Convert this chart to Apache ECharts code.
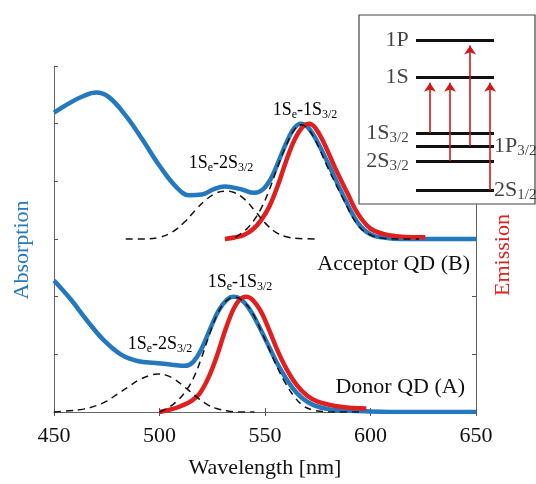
<!DOCTYPE html>
<html>
<head>
<meta charset="utf-8">
<script src="https://cdn.jsdelivr.net/npm/echarts@6/dist/echarts.min.js"></script>
<style>html,body{margin:0;background:#fff}#chart{width:536px;height:484px}</style>
</head>
<body>
<div id="chart"></div>
<script>
// spectra, [wavelength nm, offset absorbance/emission]
const accAbs = [[450,5.19],[457,5.35],[464,5.48],[470,5.54],[476,5.46],[484,5.14],[492,4.72],[500,4.27],[508,3.90],[514,3.76],[520,3.77],[526,3.87],[531,3.91],[538,3.87],[545,3.80],[549,3.86],[553,4.06],[557,4.40],[561,4.74],[564,4.93],[567,5.0],[570,4.95],[574,4.74],[580,4.30],[587,3.76],[594,3.28],[600,3.08],[607,3.02],[615,3.0],[630,3.0],[650,3.0]];
const accEm = [[531,3.0],[536,3.03],[540,3.07],[544,3.16],[548,3.32],[552,3.56],[556,3.92],[560,4.35],[564,4.72],[568,4.95],[571,5.0],[574,4.92],[578,4.66],[583,4.25],[589,3.80],[594,3.44],[600,3.18],[606,3.09],[612,3.05],[620,3.03],[626,3.03]];
const accFit1S = [[536,3.03],[542,3.2],[548,3.52],[552,3.85],[556,4.25],[560,4.62],[564,4.9],[567,4.98],[570,4.93],[574,4.70],[580,4.22],[587,3.70],[594,3.24],[600,3.07],[607,3.01],[615,3.0],[623,3.0]];
const accFit2S = [[484,3.0],[492,3.0],[500,3.03],[506,3.12],[512,3.3],[517,3.5],[522,3.68],[527,3.8],[531,3.83],[535,3.81],[540,3.70],[545,3.50],[550,3.28],[555,3.12],[560,3.04],[566,3.01],[575,3.0]];

const donAbs = [[450,2.28],[458,1.95],[466,1.57],[474,1.23],[482,0.99],[490,0.88],[498,0.85],[506,0.82],[512,0.80],[516,0.87],[520,1.10],[524,1.44],[528,1.76],[532,1.95],[535,2.0],[538,1.97],[542,1.82],[546,1.57],[551,1.20],[557,0.76],[563,0.42],[568,0.23],[573,0.12],[580,0.05],[590,0.02],[600,0.01],[620,0.0],[650,0.0]];
const donEm = [[500,0.0],[505,0.04],[510,0.10],[515,0.19],[519,0.32],[523,0.58],[527,0.95],[531,1.40],[535,1.78],[538,1.95],[541,2.0],[544,1.95],[548,1.75],[552,1.42],[556,1.06],[560,0.76],[565,0.47],[570,0.28],[575,0.18],[584,0.10],[592,0.07],[598,0.06]];
const donFit2S = [[450,0.0],[457,0.02],[464,0.05],[470,0.11],[475,0.19],[480,0.31],[485,0.43],[490,0.55],[495,0.63],[499,0.66],[503,0.64],[507,0.57],[511,0.46],[515,0.34],[519,0.22],[523,0.12],[527,0.06],[532,0.02],[538,0.0],[545,0.0]];
const donFit1S = [[500,0.0],[504,0.07],[508,0.18],[512,0.34],[516,0.58],[520,0.95],[524,1.38],[528,1.74],[532,1.94],[536,1.99],[540,1.91],[544,1.72],[548,1.42],[552,1.09],[556,0.76],[560,0.48],[564,0.26],[568,0.11],[572,0.04],[577,0.01],[583,0.0],[595,0.0]];

// inset energy levels (arbitrary units)
const levelNames = ['1P', '1S', '1S3/2', '1P3/2', '2S3/2', '2S1/2'];
const levelEnergy = [86.8, 67.2, 37.6, 30.7, 22.8, 7.4];
const levelLabelSide = ['left', 'left', 'left', 'right', 'left', 'right'];
const transitions = [['1S3/2', '1S'], ['2S3/2', '1S'], ['1P3/2', '1P'], ['2S1/2', '1S']];

const BLUE = '#2479be', RED = '#e11f1f', FONT = 'Liberation Serif';

function richName(n) {
    // "1S3/2" -> 1S with 3/2 subscript
    const m = n.match(/^(\d[SP])(.*)$/);
    return '{m|' + m[1] + '}' + (m[2] ? '{s|' + m[2] + '}' : '');
}
const eV = name => levelEnergy[levelNames.indexOf(name)];

function dashed(data) {
    return {type: 'line', data: data, smooth: 0.4, showSymbol: false, z: 4,
        lineStyle: {color: '#111', width: 1.5, type: [7, 5]}};
}
function solid(data, color, z) {
    return {type: 'line', data: data, smooth: 0.4, showSymbol: false, z: z,
        lineStyle: {color: color, width: 4.5}};
}

const tick = {show: true, inside: true, length: 4, lineStyle: {color: '#555'}};
const axLine = {show: true, lineStyle: {color: '#666', width: 1}};

const annRich = {
    m: {fontFamily: FONT, fontSize: 18, color: '#222'},
    s: {fontFamily: FONT, fontSize: 12, color: '#222', padding: [9, 0, 0, 0]}
};
function ann(text, x, y) {
    return {type: 'text', x: x, y: y, z: 30,
        style: {text: text, rich: annRich, align: 'center', verticalAlign: 'middle'}};
}

const myChart = echarts.init(document.getElementById('chart'));
const option = {
    animation: false,
    grid: [
        {left: 54, top: 66, right: 60, bottom: 70},
        {left: 359, top: 15, width: 176, height: 189, show: true, z: 10,
            backgroundColor: '#fff', borderColor: '#444', borderWidth: 1.2}
    ],
    xAxis: [
        {type: 'value', min: 450, max: 650, interval: 50, axisLine: axLine, axisTick: tick, splitLine: {show: false},
            axisLabel: {fontFamily: FONT, fontSize: 22, color: '#111', margin: 13},
            name: 'Wavelength [nm]', nameLocation: 'middle', nameGap: 45,
            nameTextStyle: {fontFamily: FONT, fontSize: 22, color: '#111'}},
        {type: 'value', position: 'top', min: 450, max: 650, interval: 50, axisLine: axLine, axisTick: tick,
            axisLabel: {show: false}, splitLine: {show: false}},
        {type: 'value', gridIndex: 1, min: 0, max: 100, show: false}
    ],
    yAxis: [
        {type: 'value', min: 0, max: 6, interval: 1, axisLine: axLine, axisTick: tick,
            axisLabel: {show: false}, splitLine: {show: false}},
        {type: 'value', position: 'right', min: 0, max: 6, interval: 1, axisLine: axLine, axisTick: tick,
            axisLabel: {show: false}, splitLine: {show: false}},
        {type: 'value', gridIndex: 1, min: 0, max: 100, show: false}
    ],
    series: [
        solid(accAbs, BLUE, 2), solid(accEm, RED, 3), dashed(accFit2S), dashed(accFit1S),
        solid(donAbs, BLUE, 2), solid(donEm, RED, 3), dashed(donFit2S), dashed(donFit1S),
        {type: 'lines', coordinateSystem: 'cartesian2d', xAxisIndex: 2, yAxisIndex: 2, z: 20,
            lineStyle: {color: '#111', width: 3, opacity: 1},
            data: levelEnergy.map(e => ({coords: [[32.4, e], [76.7, e]]}))},
        {type: 'lines', coordinateSystem: 'cartesian2d', xAxisIndex: 2, yAxisIndex: 2, z: 21,
            symbol: ['none', 'arrow'], symbolSize: 9,
            lineStyle: {color: '#d01818', width: 1.6, opacity: 1},
            data: transitions.map((t, i) => ({coords: [[40.3 + i * 11.4, eV(t[0])], [40.3 + i * 11.4, eV(t[1]) - 3]]}))},
        {type: 'scatter', xAxisIndex: 2, yAxisIndex: 2, z: 22, symbolSize: 0,
            data: levelNames.map((n, i) => ({
                value: [levelLabelSide[i] === 'left' ? 30.5 : 76.7, levelEnergy[i]],
                label: {show: true, position: levelLabelSide[i], distance: levelLabelSide[i] === 'left' ? 4 : 0,
                    formatter: richName(n),
                    rich: {m: {fontFamily: FONT, fontSize: 22, color: '#111'},
                        s: {fontFamily: FONT, fontSize: 15, color: '#111', padding: [11, 0, 0, 0]}}}
            }))}
    ],
    graphic: [
        {type: 'text', x: 22, y: 250, rotation: Math.PI / 2, z: 30,
            style: {text: 'Absorption', fontFamily: FONT, fontSize: 22, fill: BLUE, align: 'center', verticalAlign: 'middle'}},
        {type: 'text', x: 503, y: 255, rotation: Math.PI / 2, z: 30,
            style: {text: 'Emission', fontFamily: FONT, fontSize: 22, fill: RED, align: 'center', verticalAlign: 'middle'}},
        ann('{m|1S}{s|e}{m|-1S}{s|3/2}', 305, 110),
        ann('{m|1S}{s|e}{m|-2S}{s|3/2}', 221, 163),
        ann('{m|1S}{s|e}{m|-1S}{s|3/2}', 240, 282),
        ann('{m|1S}{s|e}{m|-2S}{s|3/2}', 160, 344),
        {type: 'text', x: 470, y: 264, z: 30,
            style: {text: 'Acceptor QD (B)', fontFamily: FONT, fontSize: 22, fill: '#111', align: 'right', verticalAlign: 'middle'}},
        {type: 'text', x: 465, y: 387, z: 30,
            style: {text: 'Donor QD (A)', fontFamily: FONT, fontSize: 22, fill: '#111', align: 'right', verticalAlign: 'middle'}}
    ]
};
if (option && typeof option === "object") {
    myChart.setOption(option, true);
}
</script>
</body>
</html>
